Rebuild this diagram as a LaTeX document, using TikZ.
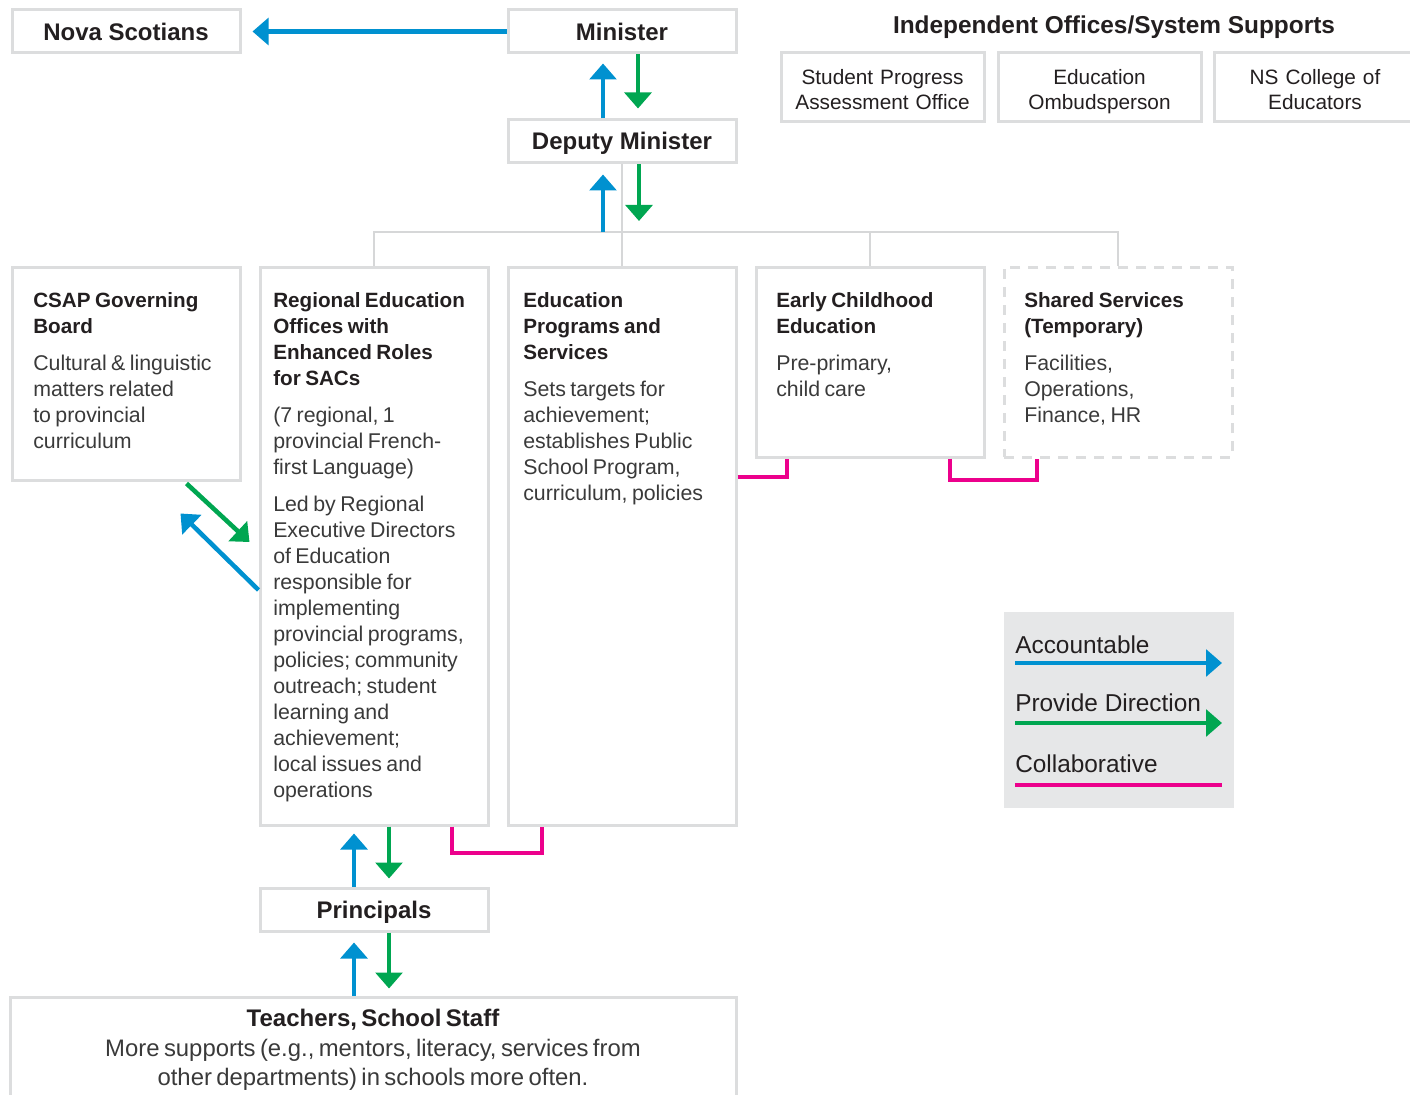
\documentclass[tikz,border=0pt]{standalone}
\usepackage{fontspec}
\setmainfont{Liberation Sans}
\usetikzlibrary{arrows.meta,calc,fit}
\definecolor{cblue}{HTML}{0091D0}
\definecolor{cgreen}{HTML}{00A651}
\definecolor{cmag}{HTML}{EC008C}
\definecolor{cgray}{HTML}{DCDDDE}
\definecolor{cline}{HTML}{D6D7D8}
\definecolor{ctext}{HTML}{231F20}
\definecolor{cbody}{HTML}{3A3A3A}
\definecolor{clegend}{HTML}{E6E7E8}
\newcommand\fTitle{\fontsize{18}{21}\selectfont\bfseries}
\newcommand\fBigTitle{\fontsize{18.3}{21}\selectfont\bfseries}
\newcommand\fHead{\fontsize{15.5}{19.5}\selectfont\bfseries\color{ctext}}
\newcommand\fBody{\normalfont\fontsize{16}{19.5}\selectfont\color{cbody}}
\newcommand\fInd{\fontsize{15.6}{18.75}\selectfont\color{cbody}}
\newcommand\fTeach{\normalfont\fontsize{17.9}{21.75}\selectfont\color{cbody}}
\newcommand\fLeg{\fontsize{18.3}{22}\selectfont\color{cbody}}
\begin{document}
\begin{tikzpicture}[x=0.75pt,y=-0.75pt,
  every node/.style={text=ctext},
  box/.style={draw=cgray, line width=2.25pt, inner sep=0pt},
  dashbox/.style={box, dash pattern=on 7.5pt off 6pt},
  tree/.style={draw=cline, line width=1.5pt},
  accarrow/.style={draw=cblue, line width=3.4pt, -{Triangle[width=20pt,length=12pt]}},
  dirarrow/.style={draw=cgreen, line width=3.4pt, -{Triangle[width=20pt,length=12pt]}},
  collab/.style={draw=cmag, line width=3pt},
  txt/.style={anchor=base west, align=left, inner sep=0pt},
  ctxt/.style={anchor=base, align=center, inner sep=0pt},
  ttxt/.style={anchor=base, inner sep=0pt, font=\fTitle}
]
\useasboundingbox (0,0) rectangle (1410,1095);
\clip (0,0) rectangle (1410,1095);

% top row
\node[box, fit={(12,10)(240,53)}] (nova) {};
\node[box, fit={(508,10)(736,53)}] (min) {};
\node[box, fit={(508,120)(736,163)}] (dep) {};
\node[ttxt] (novat) at (126,40.5) {Nova Scotians};
\node[ttxt] (mint) at (622,40.5) {Minister};
\node[ttxt] (dept) at (622,149.5) {Deputy Minister};

% independent offices
\node[ttxt, font=\fBigTitle] (indt) at (1114,34) {Independent Offices/System Supports};
\node[box, fit={(781,53)(984,122)}] (spao) {};
\node[box, fit={(998,53)(1201,122)}] (ombud) {};
\node[box, fit={(1214,53)(1420,122)}] (nsce) {};
\node[ctxt, text width=150pt, font=\fInd] (spaot) at (882.5,85) {Student Progress\\Assessment Office\par};
\node[ctxt, text width=150pt, font=\fInd] (ombudt) at (1099.5,85) {Education\\Ombudsperson\par};
\node[ctxt, text width=150pt, font=\fInd] (nscet) at (1315,85) {NS College of\\Educators\par};

% main boxes
\node[box, fit={(12,267)(240,480)}] (csap) {};
\node[box, fit={(260,267)(488,825)}] (reg) {};
\node[box, fit={(508,267)(736,825)}] (eps) {};
\node[box, fit={(756,267)(984,457)}] (ece) {};
\node[dashbox, fit={(1004,267)(1232,457)}] (ss) {};

\node[txt, text width=155pt] (csapt) at (33,307)
  {\fHead CSAP Governing\\Board\\[8.25pt]\fBody Cultural \& linguistic\\matters related\\to provincial\\curriculum\par};
\node[txt, text width=160pt] (regt) at (273,307)
  {\fHead Regional Education\\Offices with\\Enhanced Roles\\for SACs\\[8.25pt]\fBody (7 regional, 1\\provincial French-\\first Language)\\[8.25pt]Led by Regional\\Executive Directors\\of Education\\responsible for\\implementing\\provincial programs,\\policies; community\\outreach; student\\learning and\\achievement;\\local issues and\\operations\par};
\node[txt, text width=155pt] (epst) at (523,307)
  {\fHead Education\\Programs and\\Services\\[8.25pt]\fBody Sets targets for\\achievement;\\establishes Public\\School Program,\\curriculum, policies\par};
\node[txt, text width=155pt] (ecet) at (776,307)
  {\fHead Early Childhood\\Education\\[8.25pt]\fBody Pre-primary,\\child care\par};
\node[txt, text width=155pt] (sst) at (1024,307)
  {\fHead Shared Services\\(Temporary)\\[8.25pt]\fBody Facilities,\\Operations,\\Finance, HR\par};

% bottom
\node[box, fit={(260,888)(488,931)}] (prin) {};
\node[ttxt] (print) at (374,918.5) {Principals};
\node[box, fit={(10,997)(736,1115)}] (teach) {};
\node[ctxt, text width=540pt] (teacht) at (373,1026)
  {\fTitle Teachers, School Staff\\[0.75pt]\fTeach More supports (e.g., mentors, literacy, services from\\other departments) in schools more often.\par};

% tree
\coordinate (bus) at (622,232);
\draw[tree] (dep.south) -- (bus);
\draw[tree] (reg.north) -- (reg.north |- bus) -- (ss.north |- bus) -- (ss.north);
\draw[tree] (eps.north) -- (eps.north |- bus);
\draw[tree] (ece.north) -- (ece.north |- bus);

% arrows
\draw[accarrow] (min.west) -- ($(nova.east)+(11,0)$);
\draw[accarrow] ($(dep.north)+(-19,0)$) -- ($(min.south)+(-19,9)$);
\draw[dirarrow] ($(min.south)+(16,0)$) -- ($(dep.north)+(16,-10)$);
\draw[accarrow] ($(bus)+(-19,0)$) -- ($(dep.south)+(-19,10)$);
\draw[dirarrow] ($(dep.south)+(17,0)$) -- ($(bus)+(17,-11)$);

\draw[dirarrow] ($(csap.south west)+(176,2)$) -- ($(reg.west)+(-9,-4)$);
\draw[accarrow] ($(reg.west)+(0,44)$) -- ($(csap.south west)+(170,32)$);

\draw[accarrow] ($(prin.north)+(-20,0)$) -- ($(reg.south)+(-20,7)$);
\draw[dirarrow] ($(reg.south)+(15,0)$) -- ($(prin.north)+(15,-8)$);
\coordinate (pb) at ($(prin.south)+(-20,0)$);
\coordinate (pg) at ($(prin.south)+(15,0)$);
\draw[accarrow] (pb |- teach.north) -- ($(pb)+(0,10)$);
\draw[dirarrow] (pg) -- ($(pg |- teach.north)+(0,-7)$);

% collaborative
\draw[collab] ($(reg.south)+(78,0)$) -- ++(0,26) -| ($(eps.south)+(-80,0)$);
\draw[collab] ($(eps.north east)+(0,211)$) -| ($(ece.south west)+(32,0)$);
\draw[collab] ($(ece.south east)+(-36,0)$) -- ++(0,21) -| ($(ss.south west)+(34,0)$);

% legend
\node[fill=clegend, inner sep=0pt, fit={(1004,612)(1234,808)}] (legend) {};
\node[txt, font=\fLeg] (l1) at (1015,653) {Accountable};
\node[txt, font=\fLeg] (l2) at (1015,711) {Provide Direction};
\node[txt, font=\fLeg] (l3) at (1015,772) {Collaborative};
\coordinate (a1) at (1015,663); \coordinate (b1) at (1222,663);
\coordinate (a2) at (1015,723); \coordinate (b2) at (1222,723);
\coordinate (a3) at (1015,785); \coordinate (b3) at (1222,785);
\draw[accarrow] (a1) -- (b1);
\draw[dirarrow] (a2) -- (b2);
\draw[collab] (a3) -- (b3);
\end{tikzpicture}
\end{document}
